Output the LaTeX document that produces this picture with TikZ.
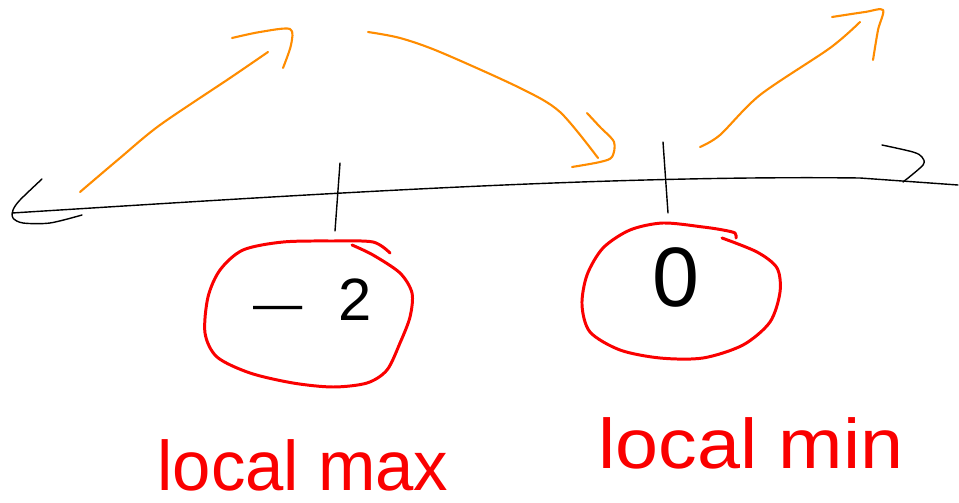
\documentclass[tikz,border=0pt]{standalone}
\usepackage{fontspec}
\setmainfont{Liberation Sans}
\usepackage{xcolor}
\usepackage{tikz}
\usetikzlibrary{arrows, arrows.meta, positioning, calc}

\definecolor{penorange}{RGB}{255,140,0}
\definecolor{penred}{RGB}{250,0,0}

\begin{document}
\begin{tikzpicture}[
			x=0.02cm, y=-0.02cm,
			axis/.style={draw=black,line width=0.8pt,line cap=round,line join=round},
			ring/.style={draw=penred,line width=1.7pt,line cap=round,line join=round},
			jump/.style={draw=penorange,line width=1.2pt,line cap=round,line join=round},
			num/.style={text=black,inner sep=0pt},
			lbl/.style={text=penred,inner sep=0pt,font=\fontsize{40}{40}\selectfont}
			]
			\useasboundingbox (0,0) rectangle (959,503);
			
			% number line
			\coordinate (L) at (12,213);
			\coordinate (R) at (958,185);
			\draw[axis] (L) .. controls (300,195) and (600,175) .. (860,178) -- (R);
			\draw[axis] plot[smooth] coordinates {(42,179) (20,200) (13,210) (13,218) (23,223) (50,223) (82,215)};
			\draw[axis] plot[smooth] coordinates {(882,145) (913,152) (922,157) (923,165) (903,182)};
			
			% ticks
			\coordinate (t1a) at (340,163);
			\coordinate (t1b) at (335,231);
			\coordinate (t2a) at (663,142);
			\coordinate (t2b) at (668,213);
			\draw[axis] (t1a) -- (t1b);
			\draw[axis] (t2a) -- (t2b);
			
			% values
			\node[num,font=\fontsize{34}{34}\selectfont] (m2) at (313,300) {{\fontsize{28}{28}\selectfont —}\hspace{0.6em}2};
			\node[num,font=\fontsize{48}{48}\selectfont] (z0) at (676,277) {0};
			
			% circles
			\draw[ring] plot[smooth] coordinates {(352,245) (373,255) (400,273) (412,293) (410,317) (400,343) (387,370) (367,383) (333,387) (293,383) (250,373) (217,357) (205,333) (208,297) (220,270) (243,250) (283,242) (333,241) (373,242) (390,253)};
			\draw[ring] plot[smooth] coordinates {(722,238) (757,252) (777,268) (780,292) (770,322) (743,345) (703,358) (660,358) (620,350) (590,332) (582,305) (587,275) (603,248) (630,230) (663,223) (703,227) (723,230) (735,233) (736,238)};
			
			% jumps
			\draw[jump] plot[smooth] coordinates {(80,192) (120,158) (160,125) (230,78) (268,52)};
			\draw[jump] plot[smooth] coordinates {(232,38) (260,32) (290,29) (291,45) (283,68)};
			\draw[jump] plot[smooth] coordinates {(368,32) (400,38) (440,52) (520,88) (560,112) (598,158)};
			\draw[jump] plot[smooth] coordinates {(587,113) (600,127) (614,142) (612,157) (600,162) (572,167)};
			\draw[jump] plot[smooth] coordinates {(700,147) (720,135) (760,95) (830,48) (860,22)};
			\draw[jump] plot[smooth] coordinates {(832,17) (865,12) (883,10) (878,30) (873,60)};
			
			% labels
			\node[lbl,anchor=base,xscale=0.98] (maxlbl) at (303,490) {local max};
			\node[lbl,anchor=base,xscale=1.1] (minlbl) at (751,468) {local min};
		\end{tikzpicture}
\end{document}
